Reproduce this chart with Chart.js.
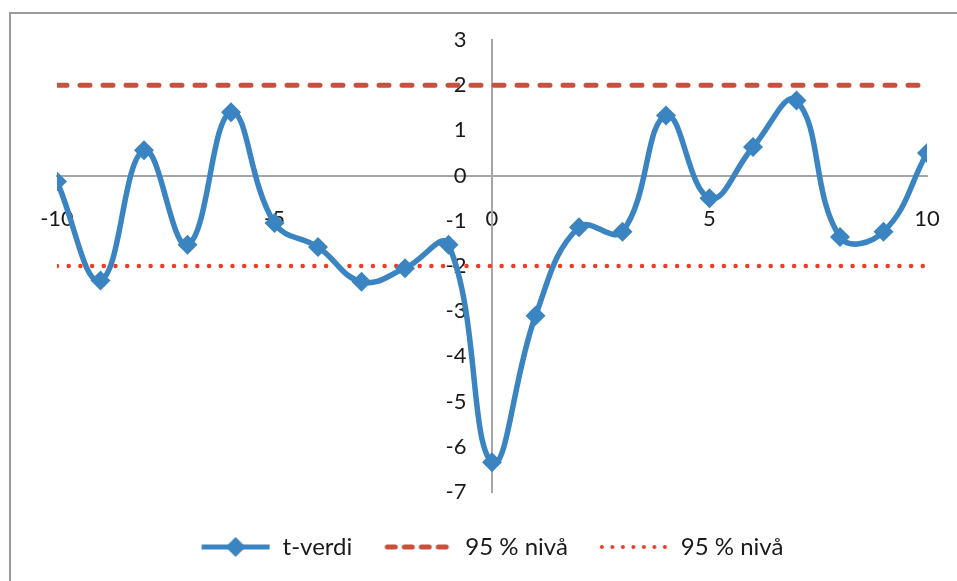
<!DOCTYPE html>
<html>
<head>
<meta charset="utf-8">
<script src="https://cdn.jsdelivr.net/npm/chart.js@4/dist/chart.umd.min.js"></script>
<style>
  html, body { margin: 0; padding: 0; background: #fff; }
  #wrap { width: 957px; height: 581px; }
</style>
</head>
<body>
<div id="wrap"><canvas id="chart_tverdi"></canvas></div>
<script>
// data
const xValues = [-10, -9, -8, -7, -6, -5, -4, -3, -2, -1, 0, 1, 2, 3, 4, 5, 6, 7, 8, 9, 10];
const tValues = [-0.13, -2.32, 0.56, -1.53, 1.40, -1.05, -1.58, -2.35, -2.05, -1.53,
                 -6.34, -3.10, -1.14, -1.24, 1.33, -0.50, 0.63, 1.66, -1.36, -1.24, 0.50];
const upperLevel = 2;
const lowerLevel = -2;
const levelRange = [-10, 10];
const seriesNames = ['t-verdi', '95 % nivå', '95 % nivå'];

const blue = '#3a84c1';
const darkRed = '#c9503e';
const brightRed = '#f03a22';
const fontFamily = 'Lato, "Open Sans", sans-serif';

function makeIcon(draw) {
  const c = document.createElement('canvas');
  c.width = 70; c.height = 22;
  const g = c.getContext('2d');
  draw(g);
  return c;
}
const legendIcons = [
  makeIcon(g => {
    g.strokeStyle = blue; g.lineWidth = 5;
    g.beginPath(); g.moveTo(1, 11); g.lineTo(69, 11); g.stroke();
    g.fillStyle = blue;
    g.beginPath(); g.moveTo(35, 1); g.lineTo(45, 11); g.lineTo(35, 21); g.lineTo(25, 11); g.closePath(); g.fill();
  }),
  makeIcon(g => {
    g.strokeStyle = darkRed; g.lineWidth = 5; g.lineCap = 'round';
    g.setLineDash([8, 9]);
    g.beginPath(); g.moveTo(4, 11); g.lineTo(68, 11); g.stroke();
  }),
  makeIcon(g => {
    g.strokeStyle = brightRed; g.lineWidth = 4; g.lineCap = 'round';
    g.setLineDash([0, 10.5]);
    g.beginPath(); g.moveTo(3, 11); g.lineTo(68, 11); g.stroke();
  })
];

var chart_tverdi = new Chart(document.getElementById('chart_tverdi'), {
  type: 'line',
  data: {
    datasets: [
      {
        label: seriesNames[0],
        data: xValues.map((x, i) => ({ x: x, y: tValues[i] })),
        borderColor: blue,
        backgroundColor: blue,
        borderWidth: 5.5,
        tension: 0.42,
        pointStyle: 'rectRot',
        pointRadius: 10,
        pointBorderWidth: 0,
        order: 0
      },
      {
        label: seriesNames[1],
        data: levelRange.map(x => ({ x: x, y: upperLevel })),
        borderColor: darkRed,
        backgroundColor: darkRed,
        borderWidth: 5,
        borderDash: [10, 13],
        borderCapStyle: 'round',
        pointRadius: 0,
        order: 1
      },
      {
        label: seriesNames[2],
        data: levelRange.map(x => ({ x: x, y: lowerLevel })),
        borderColor: brightRed,
        backgroundColor: brightRed,
        borderWidth: 4.5,
        borderDash: [0, 11.7],
        borderCapStyle: 'round',
        pointRadius: 0,
        order: 2
      }
    ]
  },
  options: {
    animation: false,
    responsive: true,
    maintainAspectRatio: false,
    layout: { padding: { left: 57, right: 30, top: 40, bottom: 12 } },
    plugins: {
      title: { display: false },
      tooltip: { enabled: false },
      legend: {
        display: true,
        position: 'bottom',
        fullSize: false,
        title: { display: true, text: '', font: { size: 10 }, padding: 0 },
        labels: {
          usePointStyle: true,
          pointStyleWidth: 70,
          boxHeight: 22,
          padding: 31,
          color: '#1a1a1a',
          font: { family: fontFamily, size: 24 },
          generateLabels: (chart) => {
            const items = Chart.defaults.plugins.legend.labels.generateLabels(chart);
            items.forEach((it, i) => { it.pointStyle = legendIcons[i]; });
            return items;
          }
        }
      }
    },
    scales: {
      x: {
        type: 'linear',
        position: { y: 0 },
        min: -10,
        max: 10,
        grid: { display: false, drawTicks: true, tickLength: 27 },
        border: { display: true, color: '#a6a6a6', width: 2 },
        ticks: {
          stepSize: 5,
          padding: 3,
          color: '#1a1a1a',
          font: { family: fontFamily, size: 22 }
        }
      },
      y: {
        type: 'linear',
        position: { x: 0 },
        min: -7,
        max: 3,
        grid: { display: false },
        border: { display: true, color: '#a6a6a6', width: 2 },
        ticks: {
          stepSize: 1,
          color: '#1a1a1a',
          font: { family: fontFamily, size: 22 },
          callback: (v) => v + '\u2007\u2007'
        }
      }
    }
  },
  plugins: [{
    id: 'customPlugin',
    beforeDraw: (chart, args, options) => {
      const ctx = chart.canvas.getContext('2d');
      ctx.save();
      ctx.globalCompositeOperation = 'destination-over';
      ctx.fillStyle = 'white';
      ctx.fillRect(0, 0, chart.canvas.width, chart.canvas.height);
      ctx.restore();
      ctx.save();
      ctx.strokeStyle = '#9b9b9b';
      ctx.lineWidth = 2;
      ctx.strokeRect(10, 13, chart.width + 20, chart.height + 20);
      ctx.restore();
    }
  }]
});
</script>
</body>
</html>
